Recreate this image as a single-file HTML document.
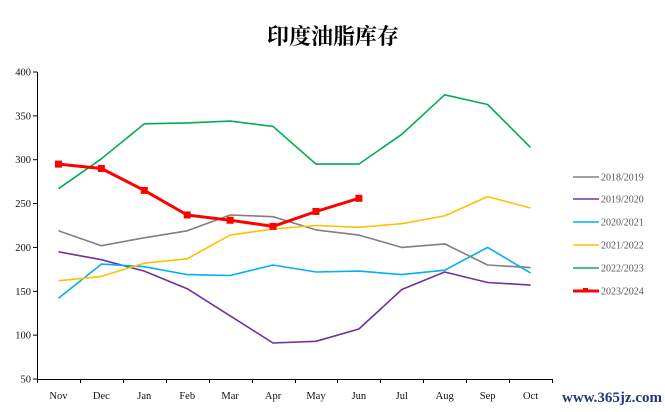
<!DOCTYPE html>
<html><head><meta charset="utf-8"><style>
html,body{margin:0;padding:0;background:#fff}
svg{display:block}
</style></head><body>
<svg id="c" width="665" height="412" xmlns="http://www.w3.org/2000/svg" font-family="Liberation Serif, serif">
<rect width="665" height="412" fill="#fff"/>
<text x="333" y="44" text-anchor="middle" font-size="22" font-weight="bold" font-family="Liberation Serif, 'Noto Serif CJK SC', serif">印度油脂库存</text>
<g id="axes" stroke="#000" stroke-width="1"></g>
<g id="lbl" font-size="10.5" fill="#111"></g>
<g id="ser" fill="none" stroke-linejoin="round"></g>
<g id="leg" font-size="10" fill="#555"></g>
<text x="662" y="402" text-anchor="end" font-size="15" font-weight="bold" fill="#1d3c7a">www.365jz.com</text>
</svg>
<script>
var NS="http://www.w3.org/2000/svg";
function el(p,t,a,txt){var e=document.createElementNS(NS,t);for(var k in a)e.setAttribute(k,a[k]);if(txt!=null)e.textContent=txt;document.getElementById(p).appendChild(e);return e;}
var x0=37,x1=552,yT=72,yB=379,cw=(x1-x0)/12;
function Y(v){return yB-(v-50)*(yB-yT)/350;}
function X(i){return x0+cw*(i+0.5);}
el("axes","line",{x1:x0+.5,y1:yT,x2:x0+.5,y2:yB});
el("axes","line",{x1:x0,y1:yB+.5,x2:x1,y2:yB+.5});
for(var v=50;v<=400;v+=50){var y=Y(v);el("axes","line",{x1:x0-4,y1:y,x2:x0,y2:y});el("lbl","text",{x:x0-6,y:y+3.5,"text-anchor":"end"},v);}
var m=["Nov","Dec","Jan","Feb","Mar","Apr","May","Jun","Jul","Aug","Sep","Oct"];
for(var i=0;i<=12;i++){var x=Math.round(x0+cw*i)+.5;el("axes","line",{x1:x,y1:yB,x2:x,y2:yB+4});}
for(var i=0;i<12;i++)el("lbl","text",{x:X(i),y:399,"text-anchor":"middle"},m[i]);
var S=[["2018/2019","#808080",[219,202,211,219,237,235,220,214,200,204,180,177]],
["2019/2020","#7030a0",[195,186,173,153,122,91,93,107,152,172,160,157]],
["2020/2021","#00b0f0",[142,181,178,169,168,180,172,173,169,174,200,171]],
["2021/2022","#ffc000",[162,167,182,187,214,221,225,223,227,236,258,245]],
["2022/2023","#00b050",[267,301,341,342,344,338,295,295,329,374,363,314]],
["2023/2024","#ff0000",[295,290,265,237,231,224,241,256]]];
var ly=[177,199,222,245,268,291];
S.forEach(function(s,k){
 var pts=s[2].map(function(v,i){return X(i).toFixed(1)+","+Y(v).toFixed(1)}).join(" ");
 var red=k==5;
 el("ser","polyline",{points:pts,stroke:s[1],"stroke-width":red?3:1.6});
 if(red)s[2].forEach(function(v,i){el("ser","rect",{x:X(i)-3.5,y:Y(v)-3.5,width:7,height:7,fill:s[1],stroke:"none"});});
 el("leg","line",{x1:573,y1:ly[k],x2:599,y2:ly[k],stroke:s[1],"stroke-width":red?3:1.6});
 if(red)el("leg","rect",{x:583,y:ly[k]-3,width:5,height:4,fill:s[1]});
 el("leg","text",{x:601,y:ly[k]+3.5},s[0]);
});
</script>
</body></html>
